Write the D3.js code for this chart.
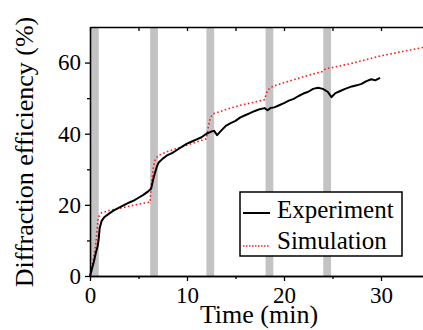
<!DOCTYPE html>
<html>
<head>
<meta charset="utf-8">
<script src="https://cdn.jsdelivr.net/npm/d3@7"></script>
</head>
<body style="margin:0;background:#fff">
<svg id="chart" width="423" height="330" font-family="Liberation Serif"></svg>
<script>
// experiment (black solid)
const expTime = [0, 0.2, 0.4, 0.6, 0.8, 0.9, 1.0, 1.2, 1.5, 2.0, 2.5, 3.0, 3.5, 4.0, 4.5, 5.0, 5.5, 6.0, 6.3, 6.5, 6.7, 6.9, 7.1, 7.5, 8.0, 8.5, 9.0, 9.5, 10.0, 10.5, 11.0, 11.5, 12.0, 12.5, 12.8, 13.1, 13.5, 14.0, 14.5, 15.0, 15.5, 16.0, 16.5, 17.0, 17.5, 18.0, 18.3, 18.6, 19.0, 19.5, 20.0, 20.5, 21.0, 21.5, 22.0, 22.5, 23.0, 23.5, 24.0, 24.5, 24.9, 25.3, 25.8, 26.3, 27.0, 27.5, 28.0, 28.5, 29.0, 29.4, 29.9];
const expValue = [0, 2, 4, 6.5, 8.5, 10.5, 13.5, 15.5, 16.6, 17.6, 18.5, 19.2, 19.9, 20.6, 21.2, 22.0, 22.8, 23.8, 24.5, 27, 29, 30.8, 32, 33, 34, 34.6, 35.5, 36.4, 37.2, 37.8, 38.4, 39.0, 40.0, 40.6, 40.8, 39.6, 40.8, 42.2, 43.0, 43.6, 44.6, 45.2, 45.8, 46.4, 46.9, 47.2, 46.6, 47.2, 47.4, 48.0, 48.6, 49.3, 49.8, 50.6, 51.3, 51.8, 52.6, 52.9, 52.6, 51.8, 50.3, 51.4, 52.0, 52.6, 53.3, 53.6, 54.0, 54.8, 55.3, 55.0, 55.7];

// simulation (red dotted)
const simTime = [0, 0.3, 0.6, 0.85, 1.2, 2.0, 3.0, 4.0, 5.0, 6.2, 6.3, 6.5, 6.7, 7.0, 8.0, 9.0, 10.0, 11.0, 12.0, 12.2, 12.4, 12.7, 14.0, 15.5, 17.0, 18.0, 18.2, 18.5, 19.0, 21.0, 23.0, 24.0, 24.3, 25.0, 27.0, 30.0, 32.0, 35.0];
const simValue = [0, 4, 9, 16.5, 17.8, 18.4, 19.0, 19.6, 20.2, 20.8, 25, 30, 32.5, 33.8, 35.0, 35.9, 36.8, 37.7, 38.6, 42, 44.5, 45.6, 46.8, 48.0, 48.9, 49.6, 51.5, 52.8, 53.5, 55.2, 56.8, 57.5, 58.3, 58.6, 59.8, 61.9, 63.0, 64.6];

// grey exposure-off bands [start, end] in min
const bands = [[0, 0.9], [6.2, 7.0], [12.0, 12.8], [18.1, 18.9], [24.05, 24.85]];

const xMajor = [0, 10, 20, 30];
const xMinor = [5, 15, 25, 35];
const yMajor = [0, 20, 40, 60];
const yMinor = [10, 30, 50];

const FONT = 'Liberation Serif';
const svg = d3.select('#chart');
const plotLeft = 90, plotTop = 27, plotBottom = 276;

const x = d3.scaleLinear().domain([0, 35]).range([plotLeft, plotLeft + 35 * 9.7]);
const y = d3.scaleLinear().domain([0, 70]).range([plotBottom, plotTop]);

// bands
svg.append('g').selectAll('rect')
  .data(bands)
  .enter()
  .append('rect')
  .attr('x', d => x(d[0]))
  .attr('width', d => x(d[1]) - x(d[0]))
  .attr('y', plotTop)
  .attr('height', plotBottom - plotTop)
  .attr('fill', '#c3c3c3');

const line = d3.line()
  .x(d => x(d[0]))
  .y(d => y(d[1]));

const simData = simTime.map((t, i) => [t, simValue[i]]);
const expData = expTime.map((t, i) => [t, expValue[i]]);

svg.append('path')
  .datum(simData)
  .attr('d', line)
  .attr('fill', 'none')
  .attr('stroke', '#ff1a1a')
  .attr('stroke-width', 1.6)
  .attr('stroke-dasharray', '1.6,2.4');

svg.append('path')
  .datum(expData)
  .attr('d', line)
  .attr('fill', 'none')
  .attr('stroke', '#000')
  .attr('stroke-width', 2)
  .attr('stroke-linejoin', 'round');

// axes
function styleAxis(g) {
  g.attr('font-family', FONT).attr('font-size', 23);
  g.selectAll('path').attr('stroke', '#000').attr('stroke-width', 1.3);
  g.selectAll('line').attr('stroke', '#000').attr('stroke-width', 1.3);
  g.selectAll('text').attr('fill', '#000');
}

svg.append('g')
  .attr('transform', `translate(0,${plotBottom})`)
  .call(d3.axisBottom(x).tickValues(xMajor).tickSize(5).tickSizeOuter(0).tickPadding(6))
  .call(styleAxis);
svg.append('g')
  .attr('transform', `translate(0,${plotBottom})`)
  .call(d3.axisBottom(x).tickValues(xMinor).tickSize(3).tickSizeOuter(0).tickFormat(''))
  .call(styleAxis);

svg.append('g')
  .attr('transform', `translate(0,${plotTop})`)
  .call(d3.axisTop(x).tickValues(xMajor.concat(xMinor)).tickSize(-4).tickSizeOuter(0).tickFormat(''))
  .call(styleAxis);

svg.append('g')
  .attr('transform', `translate(${plotLeft},0)`)
  .call(d3.axisLeft(y).tickValues(yMajor).tickSize(5).tickSizeOuter(0).tickPadding(4))
  .call(styleAxis);
svg.append('g')
  .attr('transform', `translate(${plotLeft},0)`)
  .call(d3.axisLeft(y).tickValues(yMinor).tickSize(3).tickSizeOuter(0).tickFormat(''))
  .call(styleAxis);

// titles
svg.append('text')
  .attr('x', 259)
  .attr('y', 323)
  .attr('text-anchor', 'middle')
  .attr('font-family', FONT)
  .attr('font-size', 26)
  .text('Time (min)');

svg.append('text')
  .attr('transform', 'translate(33,152) rotate(-90)')
  .attr('text-anchor', 'middle')
  .attr('font-family', FONT)
  .attr('font-size', 26)
  .text('Diffraction efficiency (%)');

// legend
const lg = svg.append('g').attr('font-family', FONT).attr('font-size', 25);
lg.append('rect')
  .attr('x', 240).attr('y', 192)
  .attr('width', 162).attr('height', 64)
  .attr('fill', '#fff')
  .attr('stroke', '#000')
  .attr('stroke-width', 1.5);
lg.append('line')
  .attr('x1', 243).attr('x2', 270)
  .attr('y1', 213).attr('y2', 213)
  .attr('stroke', '#000').attr('stroke-width', 2);
lg.append('text')
  .attr('x', 277).attr('y', 218)
  .text('Experiment');
lg.append('line')
  .attr('x1', 243).attr('x2', 270)
  .attr('y1', 246).attr('y2', 246)
  .attr('stroke', '#ff1a1a').attr('stroke-width', 1.3)
  .attr('stroke-dasharray', '1.5,1.5');
lg.append('text')
  .attr('x', 277).attr('y', 249)
  .text('Simulation');
</script>
</body>
</html>
